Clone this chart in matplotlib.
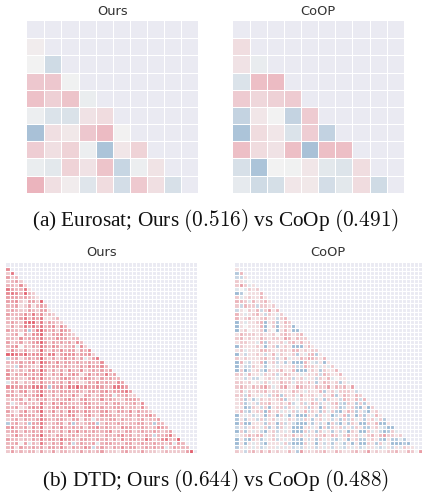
import numpy as np
import matplotlib
matplotlib.use("Agg")
import matplotlib.pyplot as plt
from matplotlib.colors import LinearSegmentedColormap

plt.rcParams['mathtext.fontset'] = 'cm'

W, H = 422, 492
BG = '#eaeaf2'
CMAP_EURO = LinearSegmentedColormap.from_list('div', ['#a5bfd6', '#f2f2f2', '#e5788a'])
CMAP_DTD = LinearSegmentedColormap.from_list('div2', ['#9cb9d4', '#f3f3f3', '#e2606e'])

TITLES = ['Ours', 'CoOP']
CAPTION_A = '(a) Eurosat; Ours $(0.516)$ vs CoOp $(0.491)$'
CAPTION_B = '(b) DTD; Ours $(0.644)$ vs CoOp $(0.488)$'

euro_ours = [
    [.05],
    [0, -.45],
    [.35, .35, -.03],
    [.4, .28, .38, -.1],
    [-.08, -.3, -.32, .13, .18],
    [-.95, .15, .08, .35, .45, .01],
    [.3, .15, .25, -.08, -.9, .1, .25],
    [-.1, -.2, .25, .13, .38, -.55, -.08, .12],
    [.5, .15, .05, -.25, .18, -.4, .33, .15, -.35],
]
euro_coop = [
    [.17],
    [.13, -.12],
    [-.3, .42, .45],
    [.32, .22, .27, .32],
    [-.6, .1, 0, -.6, .32],
    [-.9, .18, .1, -.3, .3, -.62],
    [.42, .18, .13, .42, -.95, .42, .42],
    [-.35, -.9, 0, -.02, .1, -.2, -.28, .17],
    [-.15, -.45, -.38, .1, .08, -.4, -.2, .18, -.45],
]

# DTD cells, one string per row: digits 0-9 = neutral to red, a-e = light to strong blue
dtd_ours = """5
26
423
2342
33252
643361
5653732
44434321
445214427
3341241343
34322432441
433353635232
323463546 1123
34326773624322
242364646345253
43324c3674342543
23404255722445332
332534446333544233
4234234574243434253
34503243643542334a52
253242237324353441435
7765745563662455534452
b3413434732423534 24a246
333434527543534434334335
22b4332263344343334354453
43232453742424253352343434
524353446324352454135343634
4332245363323454323543243433
a34132425334342523124353432 54
554444666 4c44536574544543 36654
3424523463343444343244345344564
44324345732424335314423434a33422
233414243 4234345324533353432244 43
3a23423263253543333543324244233425
33412454623453445324534433444233252
421352347235242644354334532443524332
3424444263243435522453244433234243453
234243346433443244143a3334424332342334
c3423c446323441 4c3234 4c2433432334423c33
4533425362243533434244534332544334323543
34424343524324253534343345232442343343234
235323447332442343234332433453423243b33462
433232435344364432443343 42425344336423563 37
33404a326324351 4b34334a344332442343343324a43
3414334342443532433 54b3432435344234 3434a24333
2423233142241332224232342221342224222123222247""".split('\n')

dtd_coop = """1
c3
bb1
21a0
242a1
a0a212
dc01113
2a121131
3 32a31231
2b322b2212
b10213b2413
31a1231b21a2
3123112311b23
d1a1123d12c132
e101113e02d122d
d120112d10d131dd
13222121120232123
231211321221431322
12211a3c2112a231312
d211121d12c121ddd131
12a111332112213312122
d1b1121b13a2112c1a33c1
21211123 12b13a113243213
e3ab113d12b1c1ddd31ab1d1
d1bb211c01a1112bb3221a1a2
e2db12bd2123113ddd121c2113
22a311a212b13211a1212b32113
11b1bb0121a212b12a11b213a011
221201a2a11322a22131c13212c1a
232132342a134114322132241 32314
13a212231221113 21a2113c12a2221b
22b311a1b23c212a31221a213c132132
12c1ca212123c11a2112b1c211b3213b3
12ca1b22311213b02b132b1a23bc21c2c1
11dc21b2d122b21a12c21d2a12cb12cd1d2
13bc122d312a1a2b13b21c2a2cd132c1bd12
e1a1ba1d21d2ad1ddd21c2a1db13c1d2c1a31
c1c11b2b12a1a21bb21c12a1b1c2b2a1c12a2c
d2dd111c21d2b1bdde1c1b1d2bd1c21dd213dd1
b1b121a2c1c2a1ddd12a1d2c212b1b21cc12abdd
d2c1a1bd12b1a1ddd2b1c2a1c1b1d21dd2a1bdc2a
a123233a12a121312a21223132a2312a1231342212
d1cd21ca12b1a1ccd1b1c2a1bca1d12cc121cd1ccac
e1d1a1bd111a2bdde2a1d1b1c1ac1d1de21c2a1dedcd
c1a1a1ba11a1a1bab1a1b1a1b1ab1a1ba11aba1b1a211
21b2313131211 31c41212231132112312412112231132 04""".split('\n')


def decode(rows, n):
    """Turn the per-row strings into a lower-triangular value matrix."""
    m = np.full((n, n), np.nan)
    for i, row in enumerate(rows, start=1):
        cells = row.replace(' ', '')
        for j, ch in enumerate(cells[:i + 1]):
            if ch.isdigit():
                m[i, j] = min(int(ch) / 7, 1)
            else:
                m[i, j] = -min((ord(ch) - 96) / 4, 1)
    return m


def from_lists(rows, n):
    m = np.full((n, n), np.nan)
    for i, row in enumerate(rows, start=1):
        m[i, :len(row)] = row
    return m


fig = plt.figure(figsize=(W / 100, H / 100), dpi=100)


def panel(m, box, title, lw, pad, cmap):
    x0, y0, x1, y1 = box
    ax = fig.add_axes([x0 / W, 1 - y1 / H, (x1 - x0) / W, (y1 - y0) / H])
    ax.set_facecolor(BG)
    n = m.shape[0]
    ax.pcolormesh(np.arange(n + 1), np.arange(n + 1), np.ma.masked_invalid(m),
                  cmap=cmap, vmin=-1, vmax=1, zorder=1)
    ax.set_xlim(0, n)
    ax.set_ylim(n, 0)
    ticks = np.arange(1, n)
    ax.set_xticks(ticks)
    ax.set_yticks(ticks)
    ax.tick_params(length=0, labelbottom=False, labelleft=False)
    ax.grid(True, color='white', lw=lw, zorder=3)
    ax.set_axisbelow(False)
    for s in ax.spines.values():
        s.set_visible(False)
    ax.set_title(title, fontsize=9.4, color='#333333', pad=pad)


panel(from_lists(euro_ours, 10), (27.3, 21, 198, 192.7), TITLES[0], 0.75, 4.2, CMAP_EURO)
panel(from_lists(euro_coop, 10), (233, 21, 403.7, 192.7), TITLES[1], 0.75, 4.2, CMAP_EURO)
panel(decode(dtd_ours, 47), (6.3, 263, 196.7, 453.3), TITLES[0], 0.85, 5.2, CMAP_DTD)
panel(decode(dtd_coop, 47), (235, 263, 421.7, 453.3), TITLES[1], 0.85, 5.2, CMAP_DTD)

fig.text(215 / W, 1 - 220 / H, CAPTION_A, family='Liberation Serif', fontsize=15.3,
         ha='center', va='center', color='#111111')
fig.text(215.5 / W, 1 - 480 / H, CAPTION_B, family='Liberation Serif', fontsize=15.3,
         ha='center', va='center', color='#111111')

fig.savefig('out.png', dpi=100, facecolor='white')
